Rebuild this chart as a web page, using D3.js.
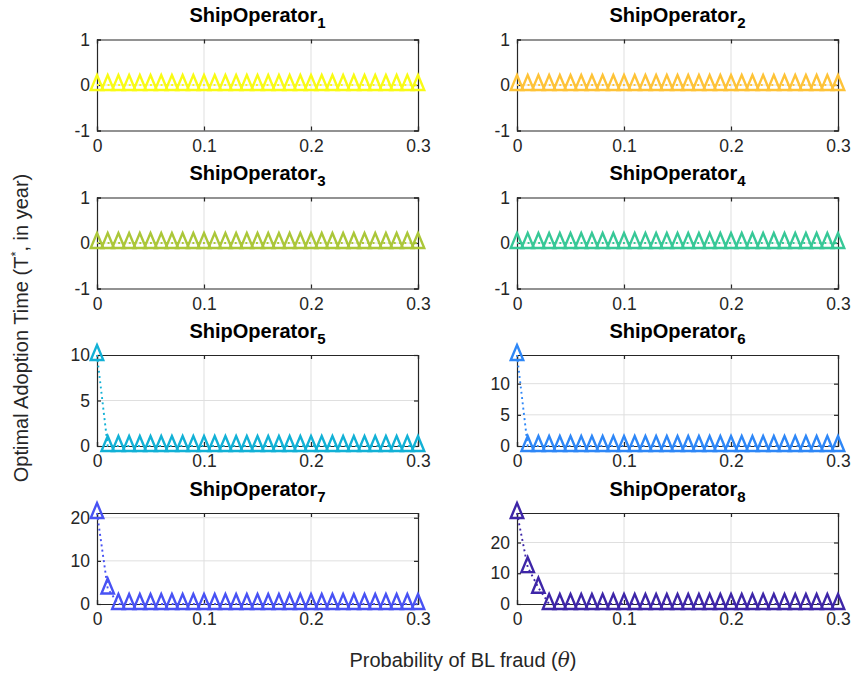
<!DOCTYPE html>
<html>
<head>
<meta charset="utf-8">
<script src="https://cdn.jsdelivr.net/npm/d3@7"></script>
<style>
  html, body { margin: 0; padding: 0; background: #fff; }
  svg { display: block; font-family: "Liberation Sans", Arial, Helvetica, sans-serif; }
</style>
</head>
<body>
<svg id="chart" width="855" height="675"></svg>
<script>
// Probability of BL fraud (theta) grid
const theta = [0, 0.01, 0.02, 0.03, 0.04, 0.05, 0.06, 0.07, 0.08, 0.09, 0.10,
               0.11, 0.12, 0.13, 0.14, 0.15, 0.16, 0.17, 0.18, 0.19, 0.20,
               0.21, 0.22, 0.23, 0.24, 0.25, 0.26, 0.27, 0.28, 0.29, 0.30];

// Optimal adoption time T* (years) for each ship operator
const op1 = [0,0,0,0,0,0,0,0,0,0,0,0,0,0,0,0,0,0,0,0,0,0,0,0,0,0,0,0,0,0,0];
const op2 = [0,0,0,0,0,0,0,0,0,0,0,0,0,0,0,0,0,0,0,0,0,0,0,0,0,0,0,0,0,0,0];
const op3 = [0,0,0,0,0,0,0,0,0,0,0,0,0,0,0,0,0,0,0,0,0,0,0,0,0,0,0,0,0,0,0];
const op4 = [0,0,0,0,0,0,0,0,0,0,0,0,0,0,0,0,0,0,0,0,0,0,0,0,0,0,0,0,0,0,0];
const op5 = [10,0,0,0,0,0,0,0,0,0,0,0,0,0,0,0,0,0,0,0,0,0,0,0,0,0,0,0,0,0,0];
const op6 = [14.6,0,0,0,0,0,0,0,0,0,0,0,0,0,0,0,0,0,0,0,0,0,0,0,0,0,0,0,0,0,0];
const op7 = [21.1,3.6,0,0,0,0,0,0,0,0,0,0,0,0,0,0,0,0,0,0,0,0,0,0,0,0,0,0,0,0,0];
const op8 = [29.6,12.0,5.3,0,0,0,0,0,0,0,0,0,0,0,0,0,0,0,0,0,0,0,0,0,0,0,0,0,0,0,0];

const seriesValues = [op1, op2, op3, op4, op5, op6, op7, op8];
const operatorIds = ["1", "2", "3", "4", "5", "6", "7", "8"];

// Tick labels
const xTicks = [0, 0.1, 0.2, 0.3];
const xTickLabels = ["0", "0.1", "0.2", "0.3"];
const yTicks = [[-1, 0, 1], [-1, 0, 1], [-1, 0, 1], [-1, 0, 1],
                [0, 5, 10], [0, 5, 10], [0, 10, 20], [0, 10, 20]];

// Line colours (parula, light to dark)
const colors = ["#f9fb15", "#fec338", "#abc739", "#37c897",
                "#12b1d6", "#2e87f7", "#4852f4", "#3e26a8"];

const svg = d3.select("#chart");
const axisColor = "#262626";
const gridColor = "#dfdfdf";

const colLeft = [97, 517];
const panelW = 321;
const rowTop = [39.5, 197.5, 355, 513];
const panelH = 91;

// Triangle marker centred on its centroid
function triangle(w, h) {
  const hw = w / 2;
  return `M0,${-h * 2 / 3}L${hw},${h / 3}L${-hw},${h / 3}Z`;
}

seriesValues.forEach((vals, i) => {
  const col = i % 2, row = Math.floor(i / 2);
  const x0 = colLeft[col], y0 = rowTop[row];
  const g = svg.append("g").attr("transform", `translate(${x0},${y0})`);

  const x = d3.scaleLinear().domain([0, 0.3]).range([0, panelW]);
  const yMax = d3.max(vals);
  const yDom = yMax > 0 ? [0, yMax] : [-1, 1];
  const y = d3.scaleLinear().domain(yDom).range([panelH, 0]);

  // grid
  g.append("g").selectAll("line").data(xTicks.filter(t => t > 0 && t < 0.3)).join("line")
    .attr("x1", d => x(d)).attr("x2", d => x(d)).attr("y1", 0).attr("y2", panelH)
    .attr("stroke", gridColor).attr("stroke-width", 1);
  g.append("g").selectAll("line").data(yTicks[i].filter(t => t > yDom[0] && t < yDom[1])).join("line")
    .attr("x1", 0).attr("x2", panelW).attr("y1", d => y(d)).attr("y2", d => y(d))
    .attr("stroke", gridColor).attr("stroke-width", 1);

  // axes (ticks inward)
  const xAxis = d3.axisBottom(x).tickValues(xTicks).tickSize(-4).tickPadding(9)
    .tickFormat((d, k) => xTickLabels[k]);
  const yAxis = d3.axisLeft(y).tickValues(yTicks[i]).tickSize(-4).tickPadding(7)
    .tickFormat(d => String(d));

  const gx = g.append("g").attr("transform", `translate(0,${panelH})`).call(xAxis);
  const gy = g.append("g").call(yAxis);
  const gxTop = g.append("g").call(d3.axisTop(x).tickValues(xTicks).tickSize(-4).tickFormat(""));
  const gyRight = g.append("g").attr("transform", `translate(${panelW},0)`)
    .call(d3.axisRight(y).tickValues(yTicks[i]).tickSize(-4).tickFormat(""));
  [gx, gy, gxTop, gyRight].forEach(a => {
    a.select(".domain").attr("stroke", axisColor).attr("stroke-width", 1.2);
    a.selectAll(".tick line").attr("stroke", axisColor).attr("stroke-width", 1.2);
    a.selectAll(".tick text").attr("fill", axisColor)
      .style("font-size", "17.5px").style("font-family", "Liberation Sans, Arial, sans-serif");
  });

  // dotted connecting line
  const line = d3.line().x((d, k) => x(theta[k])).y(d => y(d));
  g.append("path").datum(vals).attr("d", line)
    .attr("fill", "none").attr("stroke", colors[i]).attr("stroke-width", 1.9)
    .attr("stroke-dasharray", "1.9 3.4");

  // triangle markers
  g.append("g").selectAll("path").data(vals).join("path")
    .attr("transform", (d, k) => `translate(${x(theta[k])},${y(d)})`)
    .attr("d", triangle(12.5, 15))
    .attr("fill", "none").attr("stroke", colors[i]).attr("stroke-width", 2.4)
    .attr("stroke-linejoin", "miter");

  // title with subscript index
  const t = g.append("text").attr("x", panelW / 2).attr("y", -17.5)
    .attr("text-anchor", "middle").attr("fill", "#000")
    .style("font-size", "20px").style("font-weight", "bold");
  t.append("tspan").text("ShipOperator");
  t.append("tspan").attr("dy", 6).style("font-size", "15px").text(operatorIds[i]);
});

// shared axis labels
const yl = svg.append("text")
  .attr("transform", "translate(28,328) rotate(-90)")
  .attr("text-anchor", "middle").attr("fill", axisColor)
  .style("font-size", "20px");
yl.append("tspan").text("Optimal Adoption Time (T");
yl.append("tspan").attr("dy", -8).style("font-size", "13px").text("*");
yl.append("tspan").attr("dy", 8).text(", in year)");

const xl = svg.append("text")
  .attr("x", 463).attr("y", 667)
  .attr("text-anchor", "middle").attr("fill", axisColor)
  .style("font-size", "20px");
xl.append("tspan").text("Probability of BL fraud (");
xl.append("tspan").style("font-style", "italic").style("font-family", "DejaVu Serif, serif").text("θ");
xl.append("tspan").text(")");
</script>
</body>
</html>
